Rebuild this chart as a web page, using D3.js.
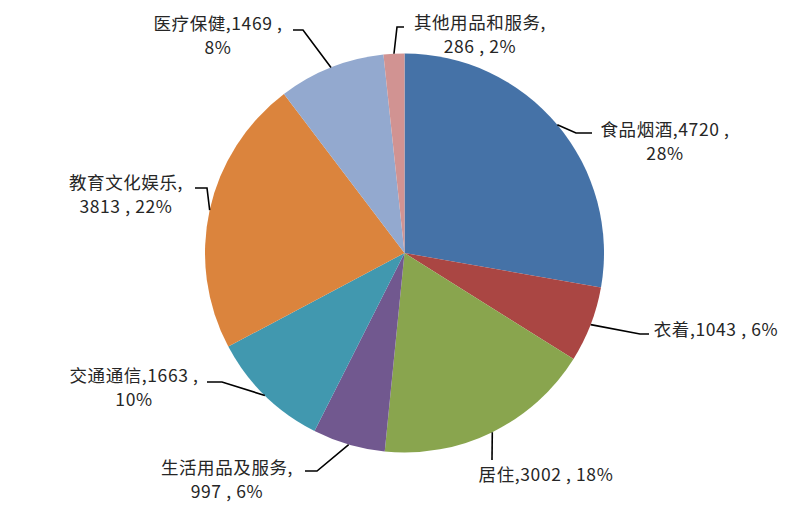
<!DOCTYPE html>
<html><head><meta charset="utf-8">
<script src="https://cdn.jsdelivr.net/npm/d3@7"></script>
<style>
html,body{margin:0;padding:0;background:#fff;}
svg{display:block;}
</style></head>
<body>
<svg id="chart" width="811" height="508"></svg>
<script>
// ---- data ----
const categories = ["食品烟酒","衣着","居住","生活用品及服务","交通通信","教育文化娱乐","医疗保健","其他用品和服务"];
const values = [4720,1043,3002,997,1663,3813,1469,286];
const pctLabels = ["28%","6%","18%","6%","10%","22%","8%","2%"];
const colors = ["#4572A7","#AA4643","#89A54E","#71588F","#4198AF","#DB843D","#93A9CF","#D19392"];

// ---- layout (label placement) ----
const labelLayout = [
  {split:"twoA", tx:665, ty:136, elbow:[576,133], end:[592,133]},
  {split:"one",  tx:716, ty:336, elbow:[640,334], end:[649,334]},
  {split:"one",  tx:546, ty:481, elbow:[492,460], end:[492,460]},
  {split:"twoB", tx:227, ty:474, elbow:[317,471], end:[305,471]},
  {split:"twoA", tx:134, ty:382, elbow:[222,382], end:[207,382]},
  {split:"twoB", tx:126, ty:189, elbow:[207,188], end:[195,188]},
  {split:"twoA", tx:218, ty:30,  elbow:[303,30],  end:[293,30]},
  {split:"twoB", tx:480, ty:29,  elbow:[397,27],  end:[404,27]}
];

const cx = 404.5, cy = 253, r = 199.5;
const svg = d3.select("#chart");
const g = svg.append("g").attr("transform", `translate(${cx},${cy})`);

const pie = d3.pie().sort(null).value(d => d);
const arcs = pie(values);
const arc = d3.arc().innerRadius(0).outerRadius(r);

g.selectAll("path.slice").data(arcs).enter().append("path")
  .attr("class","slice")
  .attr("d", arc)
  .attr("fill", (d,i) => colors[i]);

// leader lines
const edge = d3.arc().innerRadius(r).outerRadius(r);
arcs.forEach((d,i) => {
  const [ex, ey] = edge.centroid(d);
  const L = labelLayout[i];
  const pts = [[ex+cx, ey+cy], L.elbow, L.end];
  svg.append("path")
    .attr("d", d3.line()(pts))
    .attr("fill","none")
    .attr("stroke","#000")
    .attr("stroke-width",1.6);
});

// labels
const fontFamily = "'Noto Sans CJK SC','Noto Sans',sans-serif";
arcs.forEach((d,i) => {
  const L = labelLayout[i];
  const name = categories[i], v = values[i], p = pctLabels[i];
  let lines;
  if (L.split === "one") lines = [`${name},${v} , ${p}`];
  else if (L.split === "twoA") lines = [`${name},${v} ,`, p];
  else lines = [`${name},`, `${v} , ${p}`];
  const t = svg.append("text")
    .attr("text-anchor","middle")
    .attr("font-family", fontFamily)
    .attr("font-size", 17.5)
    .attr("letter-spacing", 0.6)
    .attr("fill","#262626");
  lines.forEach((s,k) => {
    t.append("tspan").attr("x", L.tx).attr("y", L.ty + k*23.5).text(s);
  });
});
</script>
</body></html>
